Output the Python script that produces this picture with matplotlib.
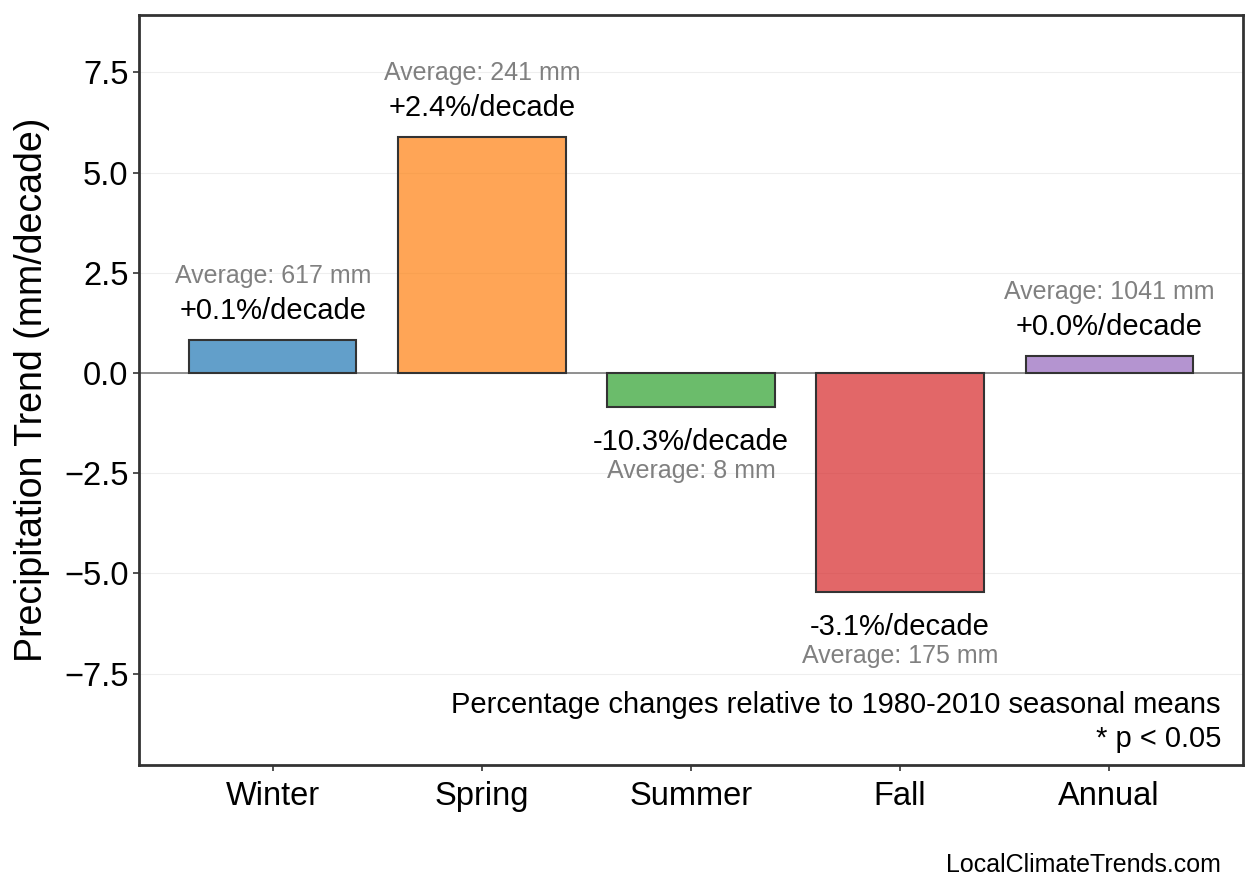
import matplotlib
matplotlib.use("Agg")
import matplotlib.pyplot as plt
from matplotlib.colors import to_rgba

plt.rcParams.update({
    "font.family": ["Liberation Sans", "DejaVu Sans"],
})

seasons = ["Winter", "Spring", "Summer", "Fall", "Annual"]
trend_mm = [0.82, 5.89, -0.85, -5.46, 0.42]
pct_labels = ["+0.1%/decade", "+2.4%/decade", "-10.3%/decade",
              "-3.1%/decade", "+0.0%/decade"]
avg_mm = [617, 241, 8, 175, 1041]
colors = ["#1f77b4", "#ff7f0e", "#2ca02c", "#d62728", "#9467bd"]

fig = plt.figure(figsize=(12.58, 8.93), dpi=100)
ax = fig.add_axes([139 / 1258, 1 - 765 / 893, (1243 - 139) / 1258, (765 - 15) / 893])

x = range(len(seasons))
face = [to_rgba(c, 0.7) for c in colors]
ax.bar(x, trend_mm, width=0.8, color=face,
       edgecolor="#333333", linewidth=1.5, zorder=3)
ax.axhline(0, color="#888888", lw=1.3, zorder=2)

ax.set_xlim(-0.64, 4.64)
ax.set_ylim(-9.78, 8.93)
ax.set_yticks([-7.5, -5.0, -2.5, 0.0, 2.5, 5.0, 7.5])
ax.set_xticks(list(x))
ax.set_xticklabels(seasons)
ax.tick_params(axis="both", labelsize=23.5, length=4.5, width=1.2, color="#333333")
ax.tick_params(axis="y", pad=3)
ax.tick_params(axis="x", pad=7)
ax.grid(axis="y", color="#eeeeee", lw=0.8, zorder=0)
ax.set_axisbelow(True)
for sp in ax.spines.values():
    sp.set_color("#333333")
    sp.set_linewidth(2)

ax.set_ylabel("Precipitation Trend (mm/decade)", fontsize=27, labelpad=10)

for xi, v, lab, avg in zip(x, trend_mm, pct_labels, avg_mm):
    if v >= 0:
        ax.text(xi, v + 0.73, lab, ha="center", va="center", fontsize=21, zorder=4)
        ax.text(xi, v + 1.6, f"Average: {avg} mm", ha="center", va="center",
                fontsize=18, color="gray", zorder=4)
    else:
        ax.text(xi, v - 0.87, lab, ha="center", va="center", fontsize=21, zorder=4)
        ax.text(xi, v - 1.6, f"Average: {avg} mm", ha="center", va="center",
                fontsize=18, color="gray", zorder=4)

ax.text(0.980, 0.016, "Percentage changes relative to 1980-2010 seasonal means\n* p < 0.05",
        transform=ax.transAxes, ha="right", va="bottom", fontsize=21,
        linespacing=1.27)

fig.text(1221 / 1258, 1 - 865 / 893, "LocalClimateTrends.com", ha="right",
         va="center", fontsize=18)

fig.savefig("out.png", dpi=100)
